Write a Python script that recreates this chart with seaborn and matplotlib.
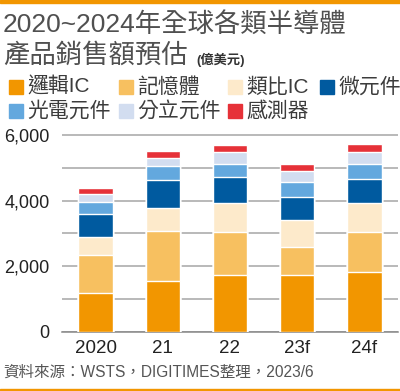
"""
2020~2024年全球各類半導體產品銷售額預估 堆疊長條圖
"""
import numpy as np
import pandas as pd
import matplotlib
matplotlib.use("Agg")
import matplotlib.pyplot as plt
from matplotlib.patches import Rectangle
import seaborn as sns

years = ["2020", "21", "22", "23f", "24f"]
series_names = ["邏輯IC", "記憶體", "類比IC", "微元件", "光電元件", "分立元件", "感測器"]
logic = [1180, 1540, 1740, 1740, 1830]
memory = [1160, 1540, 1300, 850, 1200]
analog = [550, 690, 880, 830, 890]
micro = [710, 850, 800, 690, 750]
opto = [370, 420, 410, 460, 450]
discrete = [230, 260, 360, 320, 370]
sensor = [180, 200, 190, 240, 240]
colors = ["#F29600", "#F7C060", "#FDEACB", "#005A9F", "#63A8DE", "#D2DDF0", "#E63138"]
y_ticks = [0, 2000, 4000, 6000]
y_tick_labels = ["0", "2,000", "4,000", "6,000"]

sns.set_style("white")
plt.rcParams["font.family"] = ["Liberation Sans", "Noto Sans CJK TC"]

values = np.array([logic, memory, analog, micro, opto, discrete, sensor])
cum = values.cumsum(axis=0)

W, H = 400, 391
fig = plt.figure(figsize=(4.0, 3.91), dpi=100)


def fx(px):
    return px / W


def fy(py):
    return 1 - py / H


# 繪圖區
y_top = 6200
px_per_unit = (331.7 - 135) / 6000
top_px = 331.7 - y_top * px_per_unit
ax = fig.add_axes([fx(62), fy(331.7), fx(336), (331.7 - top_px) / H])

for i in range(len(series_names) - 1, -1, -1):
    df = pd.DataFrame({"year": years, "value": cum[i]})
    sns.barplot(data=df, x="year", y="value", color=colors[i], width=0.51,
                saturation=1, ax=ax, zorder=3)

ax.set_ylim(0, y_top)
ax.set_xlim(-0.5, 4.5)
ax.set_xlabel("")
ax.set_ylabel("")
ax.set_yticks(y_ticks)
ax.set_yticklabels(y_tick_labels)
ax.set_yticks(np.arange(1000, 6000, 2000), minor=True)
ax.grid(axis="y", which="both", color="#a5a5a5", lw=1.1, zorder=0)
ax.tick_params(axis="y", which="both", length=0, pad=9, labelsize=13,
               labelcolor="#222222")
ax.set_xticks(range(len(years)))
ax.set_xticklabels(years)
ax.set_xticks(np.arange(-0.5, 5, 1), minor=True)
ax.tick_params(axis="x", which="major", length=0, pad=6, labelsize=13.5,
               labelcolor="#222222")
ax.tick_params(axis="x", which="minor", length=5, width=1, color="#888888")
for side in ["top", "right", "left"]:
    ax.spines[side].set_visible(False)
ax.spines["bottom"].set_color("#888888")
ax.spines["bottom"].set_linewidth(1.1)

# 標題
fig.text(fx(3), fy(25), "2020~2024年全球各類半導體", fontsize=19,
         fontweight="medium", color="#505050", va="center", ha="left")
fig.text(fx(3), fy(55), "產品銷售額預估", fontsize=19,
         fontweight="medium", color="#505050", va="center", ha="left")
fig.text(fx(196), fy(60), "(億美元)", fontsize=9.5, fontweight="bold",
         color="#333333", va="center", ha="left")

# 圖例
legend_pos = [(9, 87), (119, 87), (228, 87), (320, 87),
              (9, 111), (119, 111), (228, 111)]
for (lx, ly), name, c in zip(legend_pos, series_names, colors):
    fig.patches.append(Rectangle((fx(lx), fy(ly + 7)), fx(14), 14 / H,
                                 transform=fig.transFigure, color=c))
    fig.text(fx(lx + 18), fy(ly), name, fontsize=15, color="#3c3c3c",
             va="center", ha="left")

# 資料來源
fig.text(fx(3), fy(372), "資料來源：WSTS，DIGITIMES整理，2023/6", fontsize=11.2,
         color="#555555", va="center", ha="left")

# 上下橘色線
fig.patches.append(Rectangle((0, fy(2.5)), 1, 2.5 / H, transform=fig.transFigure,
                             color="#F29600"))
fig.patches.append(Rectangle((0, 0), 1, 2.5 / H, transform=fig.transFigure,
                             color="#F29600"))

fig.savefig("out.png", dpi=100)
